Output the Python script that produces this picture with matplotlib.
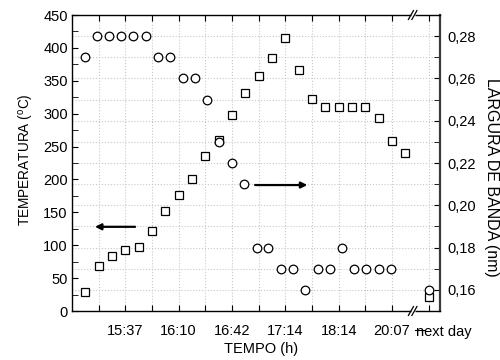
import matplotlib
matplotlib.use("Agg")
import matplotlib.pyplot as plt
from matplotlib.ticker import FixedLocator, MultipleLocator, FuncFormatter

plt.rcParams['font.family'] = ['Liberation Sans', 'DejaVu Sans']
plt.rcParams['mathtext.fontset'] = 'custom'
plt.rcParams['mathtext.rm'] = 'Liberation Sans'
plt.rcParams['font.size'] = 10.5

# temperatura (quadrados, eixo esquerdo)
temp_x = [1, 2, 3, 4, 5, 6, 7, 8, 9, 10, 11, 12, 13, 14, 15, 16, 17, 18, 19,
          20, 21, 22, 23, 24, 25, 26.8]
temp_c = [29, 69, 83, 92, 98, 121, 152, 177, 201, 236, 260, 298, 331, 357, 385,
          415, 366, 322, 310, 310, 310, 310, 293, 258, 240, 22]

# largura de banda (circulos, eixo direito)
band_x = [0.98, 1.85, 2.78, 3.70, 4.60, 5.53, 6.47, 7.37, 8.30, 9.23, 10.13,
          11.05, 11.98, 12.90, 13.85, 14.72, 15.65, 16.55, 17.48, 18.43, 19.33,
          20.23, 21.17, 22.07, 23.00, 23.90, 26.8]
band_nm = [0.27, 0.28, 0.28, 0.28, 0.28, 0.28, 0.27, 0.27, 0.26, 0.26, 0.25,
           0.23, 0.22, 0.21, 0.18, 0.18, 0.17, 0.17, 0.16, 0.17, 0.17, 0.18,
           0.17, 0.17, 0.17, 0.17, 0.16]

tick_pos = [2, 4, 6, 8, 10, 12, 14, 16, 18, 20, 22, 24, 26.8]
tick_lbl = {4: '15:37', 8: '16:10', 12: '16:42', 16: '17:14', 20: '18:14', 24: '20:07'}
next_day_x = 26.8
break_x = 25.55

fig = plt.figure(figsize=(5, 3.6), dpi=100)
ax = fig.add_axes([0.144, 0.1361, 0.736, 0.8222])   # escala da banda + grade
axT = ax.twinx()                                     # temperatura
axB = ax.twinx()                                     # circulos por cima

ax.set_xlim(0, 27.6)
ax.set_ylim(0.15, 0.29)
axB.set_ylim(0.15, 0.29)
axT.set_ylim(0, 450)

# eixo direito: banda
ax.yaxis.tick_right()
ax.yaxis.set_label_position('right')
ax.yaxis.set_minor_locator(MultipleLocator(0.01))
ax.set_yticks([0.16, 0.18, 0.20, 0.22, 0.24, 0.26, 0.28])
ax.yaxis.set_major_formatter(FuncFormatter(lambda v, p: f'{v:.2f}'.replace('.', ',')))

# eixo x
ax.xaxis.set_major_locator(FixedLocator(tick_pos))
ax.set_xticklabels([tick_lbl.get(t, '') for t in tick_pos])
ax.tick_params(axis='x', which='both', direction='in', top=True, length=4, pad=9)
ax.tick_params(axis='y', which='both', direction='in', length=4, pad=5)

# grade pontilhada
ax.grid(axis='x', which='major', color='#c8c8c8', linestyle=':', linewidth=0.8)
ax.grid(axis='y', which='both', color='#c8c8c8', linestyle=':', linewidth=0.8)

for sp in ax.spines.values():
    sp.set_linewidth(1.0)
ax.spines['right'].set_linewidth(1.6)
ax.spines['right'].set_color('#3a3a3a')

# eixo esquerdo: temperatura
axT.yaxis.tick_left()
axT.yaxis.set_label_position('left')
axT.yaxis.set_major_locator(MultipleLocator(50))
axT.yaxis.set_minor_locator(MultipleLocator(25))
axT.tick_params(axis='y', which='both', direction='in', length=4, pad=3)
for sp in axT.spines.values():
    sp.set_visible(False)
axB.set_axis_off()

axT.plot(temp_x, temp_c, linestyle='none', marker='s', markersize=5.6,
         markerfacecolor='white', markeredgecolor='black', markeredgewidth=0.9,
         clip_on=False)
axB.plot(band_x, band_nm, linestyle='none', marker='o', markersize=6.2,
         markerfacecolor='white', markeredgecolor='black', markeredgewidth=0.9,
         clip_on=False)

# setas indicando o eixo de cada serie
arrow = dict(arrowstyle='-|>', color='black', lw=1.6, mutation_scale=9,
             shrinkA=0, shrinkB=0)
axT.annotate('', xy=(1.72, 128), xytext=(4.73, 128), arrowprops=arrow)
axT.annotate('', xy=(17.65, 191.5), xytext=(13.73, 191.5), arrowprops=arrow)

# rotulos
axT.set_ylabel(r'TEMPERATURA ($^{\rm o}$C)', fontsize=9.8)
axT.yaxis.set_label_coords(-0.125, 0.51)
axT.yaxis.label.set_verticalalignment('center')
ax.set_ylabel('LARGURA DE BANDA (nm)', rotation=270, fontsize=11.5)
ax.yaxis.set_label_coords(1.139, 0.45)
ax.yaxis.label.set_verticalalignment('center')
ax.set_xlabel('TEMPO (h)')
ax.xaxis.set_label_coords(0.514, -0.105)

ax.annotate('next day', xy=(next_day_x, 0), xycoords=('data', 'axes fraction'),
            xytext=(10.5, -10), textcoords='offset points', ha='center', va='top')

# quebra do eixo x
xt = ax.get_xaxis_transform()
for yb in (0, 1):
    axB.plot([break_x - 0.15, break_x + 0.15], [yb, yb], color='white', lw=2.5,
             transform=xt, clip_on=False, solid_capstyle='butt')
    for dx in (-0.13, 0.13):
        axB.plot([break_x + dx - 0.19, break_x + dx + 0.19], [yb - 0.015, yb + 0.015],
                 color='black', lw=0.9, transform=xt, clip_on=False)
axB.plot([25.73, 26.48], [-0.064, -0.064], color='black', lw=0.8,
         transform=xt, clip_on=False)

fig.savefig('out.png', dpi=100)
